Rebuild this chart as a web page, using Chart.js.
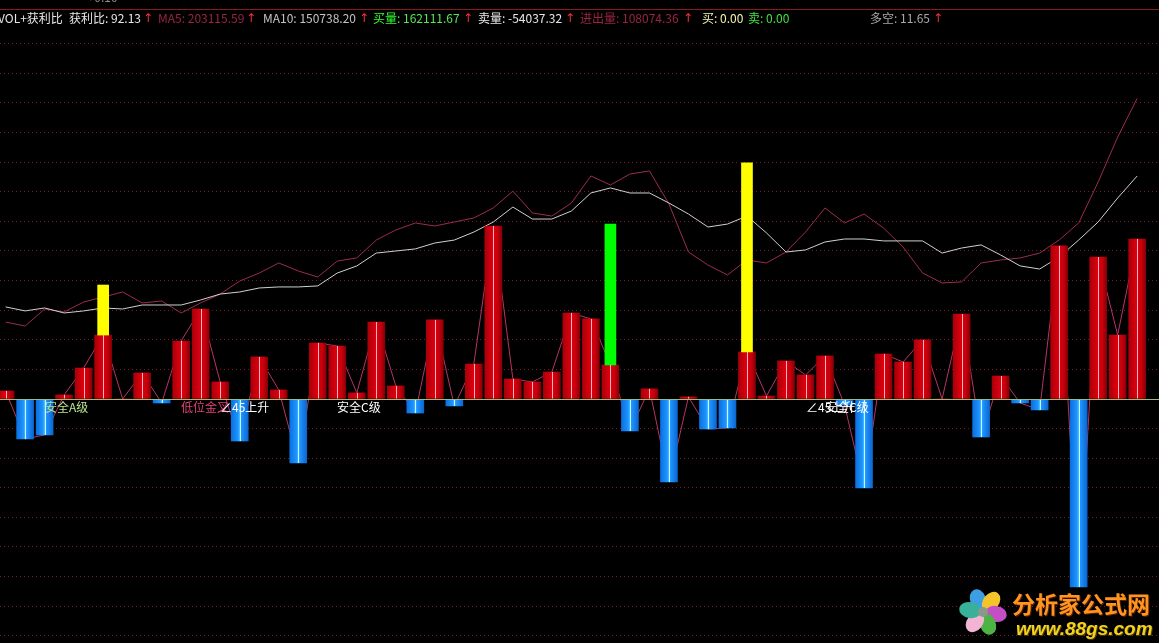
<!DOCTYPE html>
<html>
<head>
<meta charset="utf-8">
<script src="https://cdn.jsdelivr.net/npm/chart.js@4.4.0/dist/chart.umd.min.js"></script>
<style>
html, body { margin: 0; padding: 0; background: #000; overflow: hidden; }
#wrap { position: relative; width: 1159px; height: 643px; }
#volChart { position: absolute; left: 0; top: 0; }
.t { position: absolute; top: 11px; font: 12px "Noto Sans CJK SC", "Noto Sans", sans-serif; line-height: 14px; white-space: nowrap; }
.up { color: #ff3030; font-family: "DejaVu Sans", sans-serif; }
.lbl { position: absolute; font: 12px "Noto Sans CJK SC", sans-serif; line-height: 14px; white-space: nowrap; }
#hline { position: absolute; left: 0; top: 9px; width: 1159px; height: 1px; background: #8b1a1a; }
#logo1 { position: absolute; left: 1012px; top: 589px; font: bold 23px "Noto Sans CJK SC", sans-serif; line-height: 28px; color: #ff9420; text-shadow: 1px 1px 0 #5a2000; }
#logo2 { position: absolute; left: 1016px; top: 618px; font: italic bold 19px "Liberation Sans", sans-serif; line-height: 22px; color: #f2d21e; text-shadow: 1px 1px 0 #4a3a00; }
</style>
</head>
<body>
<div id="wrap">
  <canvas id="volChart" width="1159" height="643"></canvas>
  <div id="hline"></div>
  <span class="t" style="left:85px;top:-10px;color:#909090">&lt; 0.10</span>
  <span class="t" style="left:-2px;color:#e8e8e8">VOL+获利比</span>
  <span class="t" style="left:69px;color:#e8e8e8">获利比: 92.13</span>
  <span class="t up" style="left:143px">↑</span>
  <span class="t" style="left:158px;color:#9a2444">MA5: 203115.59</span>
  <span class="t up" style="left:246px">↑</span>
  <span class="t" style="left:263px;color:#c4c4c4">MA10: 150738.20</span>
  <span class="t up" style="left:359px">↑</span>
  <span class="t" style="left:373px;color:#54e854"><span style="color:#30ff30">买量</span>: 162111.67</span>
  <span class="t up" style="left:463px">↑</span>
  <span class="t" style="left:478px;color:#e8e8e8">卖量: -54037.32</span>
  <span class="t up" style="left:565px">↑</span>
  <span class="t" style="left:580px;color:#9a2444">进出量: 108074.36</span>
  <span class="t up" style="left:683px">↑</span>
  <span class="t" style="left:702px;color:#f4f4b0">买: 0.00</span>
  <span class="t" style="left:748px;color:#44e044">卖: 0.00</span>
  <span class="t" style="left:870px;color:#a8a8a8">多空: 11.65</span>
  <span class="t up" style="left:933px">↑</span>
  <div id="logo1">分析家公式网</div>
  <div id="logo2">www.88gs.com</div>
</div>
<script>
// 进出量 per day (thousands); red above zero, blue below
const flow = [5.4, -27.0, -24.3, 2.7, 20.9, 43.2, 0, 17.6, -2.7, 39.2,
  60.8, 11.5, -28.4, 28.4, 6.1, -43.2, 37.8, 35.8, 4.1, 52.0,
  8.8, -9.5, 53.4, -4.7, 23.6, 116.9, 13.5, 11.5, 18.2, 58.1,
  54.1, 23.0, -21.6, 6.8, -56.1, 1.4, -20.3, -19.6, 31.8, 2.0,
  25.7, 16.2, 29.1, -4.1, -60.1, 30.4, 25.0, 39.9, 0, 57.4,
  -25.7, 15.5, -2.7, -7.4, 103.4, -127.0, 95.9, 43.2, 108.1];

const ma5 = [52.0, 49.3, 60.8, 58.8, 65.5, 68.9, 72.3, 64.9, 66.2, 58.1,
  64.9, 70.9, 79.7, 85.1, 91.9, 86.5, 82.4, 93.2, 95.3, 107.4,
  114.2, 118.9, 116.9, 119.6, 122.3, 129.1, 140.5, 125.7, 123.6, 132.4,
  150.7, 144.6, 152.0, 154.1, 131.8, 99.3, 90.5, 83.8, 93.9, 91.9,
  99.3, 112.8, 129.1, 118.9, 125.0, 115.5, 102.7, 85.1, 78.4, 79.1,
  91.9, 93.9, 95.3, 98.6, 107.4, 118.9, 146.6, 177.0, 203.1];

const ma10 = [62.2, 59.5, 61.5, 58.1, 59.5, 61.5, 60.8, 63.5, 63.5, 63.5,
  66.9, 70.9, 72.3, 75.0, 75.7, 75.7, 76.4, 85.1, 89.9, 98.6,
  100.0, 101.4, 105.4, 107.4, 112.8, 119.6, 129.7, 121.6, 121.6, 127.0,
  139.2, 142.6, 139.2, 139.2, 132.4, 125.0, 116.2, 118.2, 123.6, 112.2,
  99.3, 100.7, 106.1, 108.1, 108.1, 106.8, 106.8, 106.8, 98.6, 102.0,
  104.1, 97.3, 89.9, 87.8, 95.9, 107.4, 119.6, 135.8, 150.7];

// signal columns sitting on top of the volume bars
const signalIdx = [5, 31, 38];
const signalFrom = [43.2, 23.0, 31.8];
const signalTo = [77.0, 118.2, 159.5];
const signalColor = ['#ffff00', '#00ff00', '#ffff00'];

// text marks under the zero line
const markIdx = [2, 9, 11, 17, 41, 42];
const markText = ['安全A级', '低位金叉', '∠45上升', '安全C级', '∠45上升', '安全C级'];
const markColor = ['#b8e48c', '#e2407a', '#ffffff', '#ffffff', '#ffffff', '#ffffff'];

const pts = arr => arr.map((v, i) => ({ x: i, y: v }));

function barFill(ctx) {
  const up = flow[ctx.dataIndex] >= 0;
  const flat = up ? '#c8000c' : '#1e90ff';
  if (ctx.type !== 'data') return flat;
  const chart = ctx.chart;
  const cx = chart.scales.x ? chart.scales.x.getPixelForValue(ctx.dataIndex) : NaN;
  if (!isFinite(cx)) return flat;
  const g = chart.ctx.createLinearGradient(cx - 8.5, 0, cx + 8.5, 0);
  if (up) {
    g.addColorStop(0, '#a8000a');
    g.addColorStop(0.45, '#dc000e');
    g.addColorStop(0.75, '#c8000c');
    g.addColorStop(1, '#860006');
  } else {
    g.addColorStop(0, '#0a70e0');
    g.addColorStop(0.4, '#1e94ff');
    g.addColorStop(0.5, '#46c0ff');
    g.addColorStop(0.6, '#1e94ff');
    g.addColorStop(1, '#0c66d0');
  }
  return g;
}

const barDecor = {
  id: 'barDecor',
  afterDatasetsDraw(chart) {
    const c = chart.ctx;
    const meta = chart.getDatasetMeta(3);
    c.save();
    c.lineWidth = 1;
    meta.data.forEach((el, i) => {
      const v = flow[i];
      if (!v) return;
      const x = Math.round(el.x) + 0.5;
      c.strokeStyle = v > 0 ? '#ffb4c0' : '#c8f6ff';
      c.beginPath();
      c.moveTo(x, el.y);
      c.lineTo(x, el.base);
      c.stroke();
    });
    const y0 = Math.round(chart.scales.y.getPixelForValue(0)) + 0.5;
    c.strokeStyle = '#9cbc7c';
    c.beginPath();
    c.moveTo(0, y0);
    c.lineTo(chart.width, y0);
    c.stroke();
    c.restore();
  },
  afterDraw(chart) {
    // little flower of the watermark
    const c = chart.ctx;
    const cx = 983, cy = 612;
    const petals = ['#3c9fe4', '#f4c42a', '#c44ec4', '#4cb444', '#f2b4d2', '#38b09a'];
    c.save();
    petals.forEach((col, k) => {
      const a = -Math.PI * 0.62 + k * Math.PI / 3;
      c.save();
      c.translate(cx + Math.cos(a) * 13, cy + Math.sin(a) * 13);
      c.rotate(a);
      c.fillStyle = col;
      c.beginPath();
      c.ellipse(0, 0, 11, 8, 0, 0, Math.PI * 2);
      c.fill();
      c.restore();
    });
    c.fillStyle = '#8a9a8a';
    c.beginPath();
    c.arc(cx, cy, 5, 0, Math.PI * 2);
    c.fill();
    c.restore();
  }
};

const chart = new Chart(document.getElementById('volChart'), {
  type: 'bar',
  data: {
    datasets: [
      { type: 'line', label: 'MA5', data: pts(ma5), borderColor: '#9c2c4e', borderWidth: 1, pointRadius: 0, tension: 0, order: 5 },
      { type: 'line', label: 'MA10', data: pts(ma10), borderColor: '#d0d0d0', borderWidth: 1, pointRadius: 0, tension: 0, order: 4 },
      { type: 'line', label: '进出量线', data: pts(flow), borderColor: '#b83464', borderWidth: 1, pointRadius: 0, tension: 0, order: 3 },
      { type: 'bar', label: '进出量', data: pts(flow), backgroundColor: barFill, borderWidth: 0, barThickness: 17, grouped: false, order: 2 },
      { type: 'bar', label: '信号', data: signalIdx.map((i, k) => ({ x: i, y: [signalFrom[k], signalTo[k]] })),
        backgroundColor: signalColor, borderWidth: 0, barThickness: 11, grouped: false, order: 1 }
    ]
  },
  options: {
    responsive: false,
    animation: false,
    layout: { padding: 0 },
    plugins: { legend: { display: false }, tooltip: { enabled: false } },
    scales: {
      x: { type: 'linear', display: false, offset: false, bounds: 'ticks', min: -0.287, max: 59.118 },
      y: {
        min: -164.9, max: 269.6,
        ticks: { display: false, stepSize: 20, includeBounds: false, maxTicksLimit: 100 },
        grid: {
          drawTicks: false,
          lineWidth: 1,
          color: ctx => (ctx.tick && ctx.tick.value !== 0 && ctx.tick.value < 250) ? '#7e1c1c' : 'rgba(0,0,0,0)'
        },
        border: { display: false, dash: [1, 3] }
      }
    }
  },
  plugins: [barDecor]
});

// place the text marks at their bars
const wrap = document.getElementById('wrap');
const y0 = chart.scales.y.getPixelForValue(0);
markIdx.forEach((i, k) => {
  const d = document.createElement('div');
  d.className = 'lbl';
  d.textContent = markText[k];
  d.style.color = markColor[k];
  d.style.left = Math.round(chart.scales.x.getPixelForValue(i)) + 'px';
  d.style.top = Math.round(y0 + 1) + 'px';
  wrap.appendChild(d);
});
</script>
</body>
</html>
